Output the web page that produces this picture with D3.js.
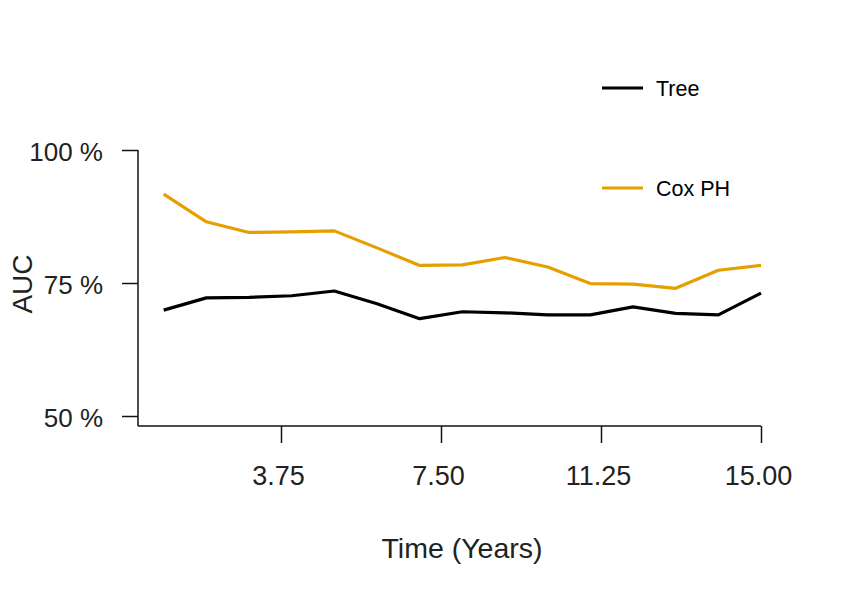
<!DOCTYPE html>
<html>
<head>
<meta charset="utf-8">
<script src="https://cdn.jsdelivr.net/npm/d3@7"></script>
<style>
  body { margin: 0; background: #fff; }
  text { font-family: "Liberation Sans", Arial, sans-serif; }
</style>
</head>
<body>
<div id="chart"></div>
<script>
// data
var years = [1, 2, 3, 4, 5, 6, 7, 8, 9, 10, 11, 12, 13, 14, 15];
var treeAUC = [69.9, 72.2, 72.3, 72.6, 73.5, 71.1, 68.3, 69.6, 69.4, 69.0, 69.0, 70.5, 69.3, 69.0, 73.1];
var coxAUC  = [91.7, 86.5, 84.5, 84.6, 84.8, 81.6, 78.3, 78.4, 79.8, 78.0, 74.9, 74.8, 74.0, 77.4, 78.3];
var xTicks = [3.75, 7.5, 11.25, 15];
var yTicks = [50, 75, 100];
var seriesNames = ["Tree", "Cox PH"];
var seriesColors = ["#000000", "#E69F00"];

var width = 854, height = 598;

var svg = d3.select("#chart").append("svg")
    .attr("width", width)
    .attr("height", height);

var x = d3.scaleLinear().domain([0, 15]).range([121, 761]);
var y = d3.scaleLinear().domain([50, 100]).range([416, 150]);
var axisY = 426, axisX = 138;

// y axis
var gy = svg.append("g")
    .attr("transform", `translate(${axisX},0)`)
    .call(d3.axisLeft(y).tickValues(yTicks).tickSize(16).tickSizeOuter(0).tickPadding(19)
        .tickFormat(d => d + " %"));
gy.select(".domain").remove();
gy.selectAll("line").attr("stroke", "#111").attr("stroke-width", 1.5);
gy.selectAll("text")
    .attr("fill", "#222")
    .style("font-size", "26px")
    .attr("dy", "0.4em");
gy.append("line")
    .attr("x1", 0).attr("x2", 0)
    .attr("y1", y(100)).attr("y2", axisY)
    .attr("stroke", "#111").attr("stroke-width", 1.5);

// x axis
var gx = svg.append("g")
    .attr("transform", `translate(0,${axisY})`)
    .call(d3.axisBottom(x).tickValues(xTicks).tickSize(17).tickSizeOuter(0).tickPadding(23)
        .tickFormat(d3.format(".2f")));
gx.select(".domain").remove();
gx.selectAll("line").attr("stroke", "#111").attr("stroke-width", 1.5);
gx.selectAll("text")
    .attr("fill", "#222")
    .style("font-size", "27px")
    .attr("dx", "-3");
gx.append("line")
    .attr("x1", axisX).attr("x2", x(15))
    .attr("y1", 0).attr("y2", 0)
    .attr("stroke", "#111").attr("stroke-width", 1.5);

// axis titles
svg.append("text")
    .attr("x", 462).attr("y", 558)
    .attr("text-anchor", "middle")
    .attr("fill", "#222")
    .style("font-size", "28.5px")
    .text("Time (Years)");

svg.append("text")
    .attr("transform", "translate(32,284) rotate(-90)")
    .attr("text-anchor", "middle")
    .attr("fill", "#222")
    .style("font-size", "28px")
    .text("AUC");

// lines
var line = d3.line()
    .x((d, i) => x(years[i]))
    .y(d => y(d));

[treeAUC, coxAUC].forEach(function(vals, i) {
    svg.append("path")
        .datum(vals)
        .attr("fill", "none")
        .attr("stroke", seriesColors[i])
        .attr("stroke-width", 3.2)
        .attr("stroke-linejoin", "round")
        .attr("d", line);
});

// legend
var legendY = [88, 188];
seriesNames.forEach(function(name, i) {
    svg.append("line")
        .attr("x1", 602).attr("x2", 643)
        .attr("y1", legendY[i]).attr("y2", legendY[i])
        .attr("stroke", seriesColors[i])
        .attr("stroke-width", 3);
    svg.append("text")
        .attr("x", 656).attr("y", legendY[i] + 8)
        .attr("fill", "#000")
        .style("font-size", "21.5px")
        .text(name);
});
</script>
</body>
</html>
